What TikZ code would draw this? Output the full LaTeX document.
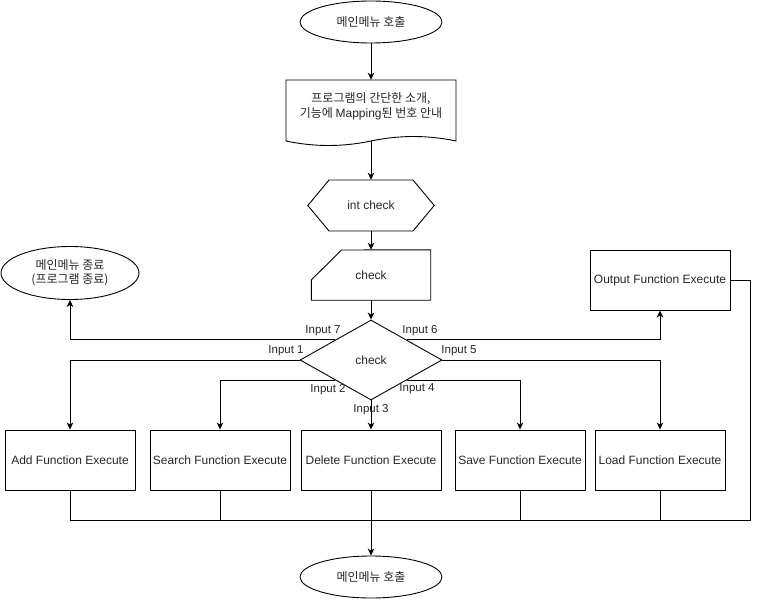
\documentclass[tikz,border=0pt]{standalone}
\usepackage{fontspec}
\setmainfont{Liberation Sans}
\newfontfamily\krfont{Noto Sans CJK KR}
\usetikzlibrary{shapes.geometric,arrows.meta,calc}

\begin{document}
\begin{tikzpicture}[x=1pt,y=-1pt,
  every node/.style={font=\fontsize{12}{15}\selectfont, text=black!85},
  line/.style={draw=black, line width=0.9pt},
  arr/.style={line, -{Stealth[length=7pt,width=6.5pt,inset=2pt]}},
  terminal/.style={ellipse, line, inner sep=0pt, minimum width=142, minimum height=42, align=center},
  process/.style={rectangle, line, inner sep=0pt, minimum height=60},
  textonly/.style={inner sep=0pt, align=center},
  decision/.style={diamond, line, inner sep=0pt, minimum width=142, minimum height=80},
  lbl/.style={font=\fontsize{11.5}{13}\selectfont, inner sep=0pt}]

\useasboundingbox (0,0) rectangle (759,601);

% start / end terminals
\node[terminal] (start) at (371,22) {\krfont 메인메뉴 호출};
\node[terminal] (endn) at (371,577) {\krfont 메인메뉴 호출};
\node[terminal, minimum width=138, minimum height=53, font=\fontsize{12}{14}\selectfont] (exit) at (70,273)
  {\krfont 메인메뉴 종료\\\krfont (프로그램 종료)};

% document: program introduction
\node[textonly, minimum width=170, minimum height=52] (doc) at (371,106)
  {\krfont 프로그램의 간단한 소개,\\\krfont 기능에 {\rmfamily Mapping}된 번호 안내};
\draw[line] (286,80) -- (456,80) -- (456,141)
  .. controls (427.7,135) and (399.3,135) .. (371,141)
  .. controls (342.7,147) and (314.3,147) .. (286,141) -- cycle;
\coordinate (docb) at (371,141);

% preparation hexagon
\node[textonly, minimum width=126, minimum height=51] (hex) at (371,205.5) {int check};
\draw[line] (hex.west) -- (329,180) -- (413,180) -- (hex.east) -- (413,231) -- (329,231) -- cycle;

% manual input
\node[textonly, minimum width=119, minimum height=50] (card) at (371,275) {check};
\draw[line] (card.south west) -- (card.west |- 0,280) -- (341.5,250) -- (card.north east) -- (card.south east) -- cycle;

% decision
\node[decision] (dia) at (371,360) {check};

% function boxes
\node[process, minimum width=130] (add) at (70,460) {Add Function Execute};
\node[process, minimum width=140] (search) at (220,460) {Search Function Execute};
\node[process, minimum width=140] (delete) at (371,460) {Delete Function Execute};
\node[process, minimum width=130] (save) at (520,460) {Save Function Execute};
\node[process, minimum width=130] (load) at (660,460) {Load Function Execute};
\node[process, minimum width=140] (out) at (660,280) {Output Function Execute};

% main chain
\draw[arr] (start) -- (doc.north);
\draw[arr] (docb) -- (hex.north);
\draw[arr] (hex.south) -- (card.north);
\draw[arr] (card.south) -- (dia.north);

% decision branches
\coordinate (e7) at ($(dia.north)!.5!(dia.west)$);
\coordinate (e6) at ($(dia.north)!.5!(dia.east)$);
\coordinate (e2) at ($(dia.south)!.5!(dia.west)$);
\coordinate (e4) at ($(dia.south)!.5!(dia.east)$);
\draw[arr] (e7) -| (exit.south);
\draw[arr] (e6) -| (out.south);
\draw[arr] (dia.west) -| (add.north);
\draw[arr] (dia.east) -| (load.north);
\draw[arr] (e2) -| (search.north);
\draw[arr] (e4) -| (save.north);
\draw[arr] (dia.south) -- (delete.north);

\node[lbl] (l7) at (323,330.5) {Input 7};
\node[lbl] (l6) at (420,330.5) {Input 6};
\node[lbl] (l1) at (286,351) {Input 1};
\node[lbl] (l5) at (459,351) {Input 5};
\node[lbl] (l2) at (328,390) {Input 2};
\node[lbl] (l4) at (417,388.5) {Input 4};
\node[lbl] (l3) at (371,410) {Input 3};

% return bus
\coordinate (busR) at (750,520);
\draw[line] (add.south) |- (busR) |- (out.east);
\draw[line] (search.south) -- (search.south |- busR);
\draw[line] (save.south) -- (save.south |- busR);
\draw[line] (load.south) -- (load.south |- busR);
\draw[arr] (delete.south) -- (endn.north);

\end{tikzpicture}
\end{document}
